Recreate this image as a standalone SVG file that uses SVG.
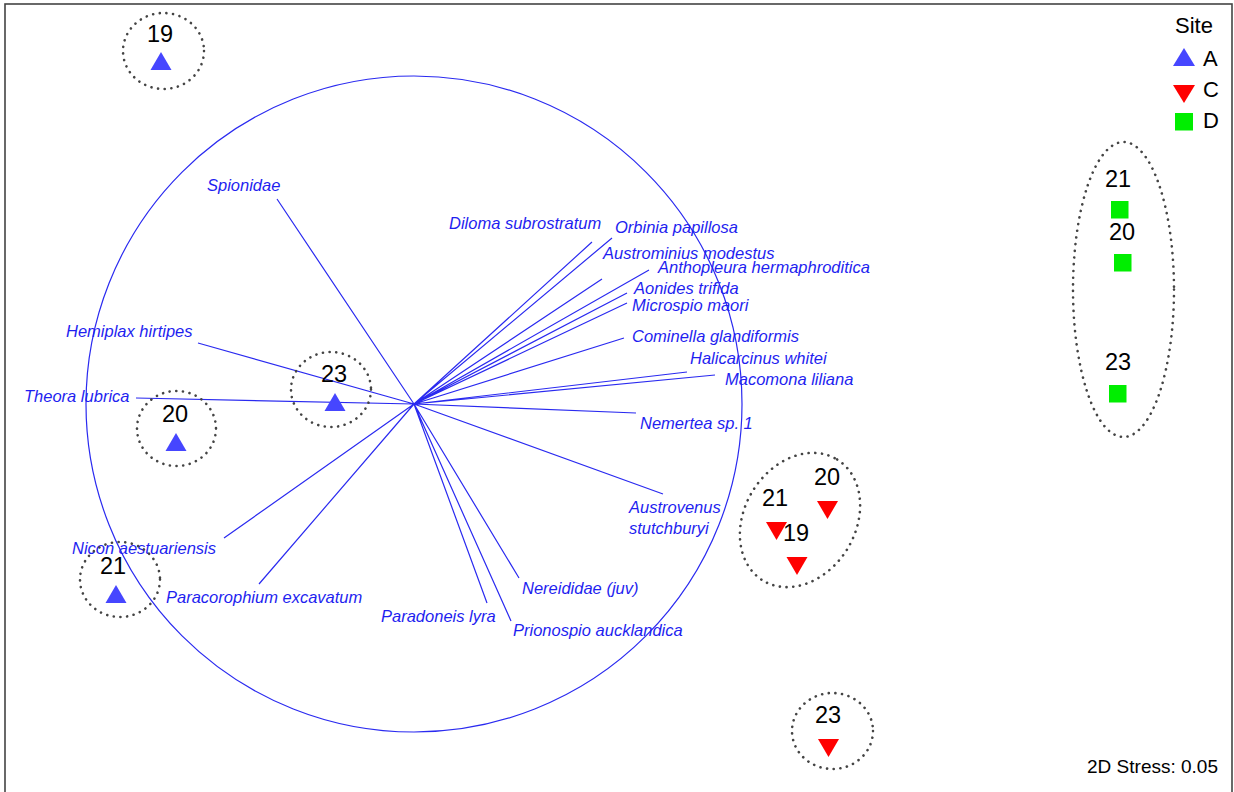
<svg xmlns="http://www.w3.org/2000/svg" width="1234" height="792" viewBox="0 0 1234 792">
<style>
.sp{font-family:"Liberation Sans",Arial,sans-serif;font-style:italic;font-size:16.5px;fill:#1f1ff0}
.num{font-family:"Liberation Sans",Arial,sans-serif;font-size:23.5px;fill:#000;text-anchor:middle}
.leg{font-family:"Liberation Sans",Arial,sans-serif;font-size:22px;fill:#000}
.ring{fill:none;stroke:#444;stroke-width:2.6;stroke-dasharray:0.1 6.6;stroke-linecap:round}
.vec{stroke:#2a2af0;stroke-width:1.2;fill:none}
.triA{fill:#4646ff}
.triC{fill:#ff0000}
.sqD{fill:#00ee00}
</style>
<rect x="0" y="0" width="1234" height="792" fill="#fff"/>
<rect x="5" y="4" width="1227" height="800" fill="none" stroke="#444" stroke-width="1.6"/>

<g id="connectors">
<circle cx="414" cy="404" r="328" class="vec"/>
<path class="vec" d="M414,404L277,199M414,404L592,242M414,404L612,238M414,404L602,279M414,404L649,270M414,404L627,293M414,404L627,303M414,404L624,338M414,404L687,372M414,404L715,375M414,404L636,413M414,404L663,494M414,404L519,578M414,404L511,621M414,404L487,603M414,404L259,584M414,404L224,538M414,404L136,398M414,404L198,343"/>
</g>

<g id="species">
<text class="sp" x="207" y="191">Spionidae</text>
<text class="sp" x="449" y="229">Diloma subrostratum</text>
<text class="sp" x="615" y="233">Orbinia papillosa</text>
<text class="sp" x="603" y="259">Austrominius modestus</text>
<text class="sp" x="658" y="273">Anthopleura hermaphroditica</text>
<text class="sp" x="634" y="294">Aonides trifida</text>
<text class="sp" x="632" y="311">Microspio maori</text>
<text class="sp" x="632" y="342">Cominella glandiformis</text>
<text class="sp" x="690" y="364">Halicarcinus whitei</text>
<text class="sp" x="725" y="385">Macomona liliana</text>
<text class="sp" x="640" y="429">Nemertea sp. 1</text>
<text class="sp" x="629" y="513">Austrovenus</text>
<text class="sp" x="629" y="534">stutchburyi</text>
<text class="sp" x="522" y="594">Nereididae (juv)</text>
<text class="sp" x="513" y="636">Prionospio aucklandica</text>
<text class="sp" x="381" y="622">Paradoneis lyra</text>
<text class="sp" x="166" y="603">Paracorophium excavatum</text>
<text class="sp" x="72" y="554">Nicon aestuariensis</text>
<text class="sp" x="24" y="402">Theora lubrica</text>
<text class="sp" x="66" y="337">Hemiplax hirtipes</text>
</g>

<g id="A19">
<ellipse class="ring" cx="163.5" cy="51" rx="40.5" ry="38"/>
<polygon class="triA" points="161,52 171.5,70 150.5,70"/>
<text class="num" x="160" y="42">19</text>
</g>
<g id="A20">
<ellipse class="ring" cx="176.5" cy="428.5" rx="39.5" ry="37.5"/>
<polygon class="triA" points="176,433 186.5,451 165.5,451"/>
<text class="num" x="175" y="422">20</text>
</g>
<g id="A23">
<ellipse class="ring" cx="331" cy="389.5" rx="40" ry="37.5"/>
<polygon class="triA" points="335,393 345.5,411 324.5,411"/>
<text class="num" x="334" y="382">23</text>
</g>
<g id="A21">
<ellipse class="ring" cx="120" cy="579.5" rx="40" ry="37.5"/>
<polygon class="triA" points="116,585 126.5,603 105.5,603"/>
<text class="num" x="113" y="574">21</text>
</g>

<g id="C-group">
<ellipse class="ring" cx="800" cy="520" rx="71" ry="55.5" transform="rotate(-58.5 800 520)"/>
</g>
<g id="C20">
<polygon class="triC" points="817,501 838,501 827.5,519"/>
<text class="num" x="827" y="485">20</text>
</g>
<g id="C21">
<polygon class="triC" points="766,522 787,522 776.5,540"/>
<text class="num" x="775" y="506">21</text>
</g>
<g id="C19">
<polygon class="triC" points="786.5,557 807.5,557 797,575"/>
<text class="num" x="796" y="541">19</text>
</g>
<g id="C23">
<ellipse class="ring" cx="832.5" cy="731" rx="40.5" ry="38"/>
<polygon class="triC" points="818,739 839,739 828.5,757"/>
<text class="num" x="828" y="723">23</text>
</g>

<g id="D-group">
<ellipse class="ring" cx="1123.5" cy="289.5" rx="50.5" ry="147.5"/>
</g>
<g id="D21">
<rect class="sqD" x="1111" y="201" width="17.5" height="17.5"/>
<text class="num" x="1118" y="187">21</text>
</g>
<g id="D20">
<rect class="sqD" x="1114" y="254" width="17.5" height="17.5"/>
<text class="num" x="1122" y="240">20</text>
</g>
<g id="D23">
<rect class="sqD" x="1109" y="385" width="17.5" height="17.5"/>
<text class="num" x="1118" y="370">23</text>
</g>

<g id="legend">
<text class="leg" x="1175" y="33">Site</text>
<polygon class="triA" points="1184,48 1195,66 1173,66"/>
<text class="leg" x="1203" y="66">A</text>
<polygon class="triC" points="1173,85 1195,85 1184,103"/>
<text class="leg" x="1203" y="97">C</text>
<rect class="sqD" x="1175" y="113" width="18" height="17.5"/>
<text class="leg" x="1203" y="128">D</text>
</g>

<g id="stress">
<text font-family="Liberation Sans, Arial, sans-serif" font-size="19" x="1218" y="773" text-anchor="end" fill="#000">2D Stress: 0.05</text>
</g>
</svg>
